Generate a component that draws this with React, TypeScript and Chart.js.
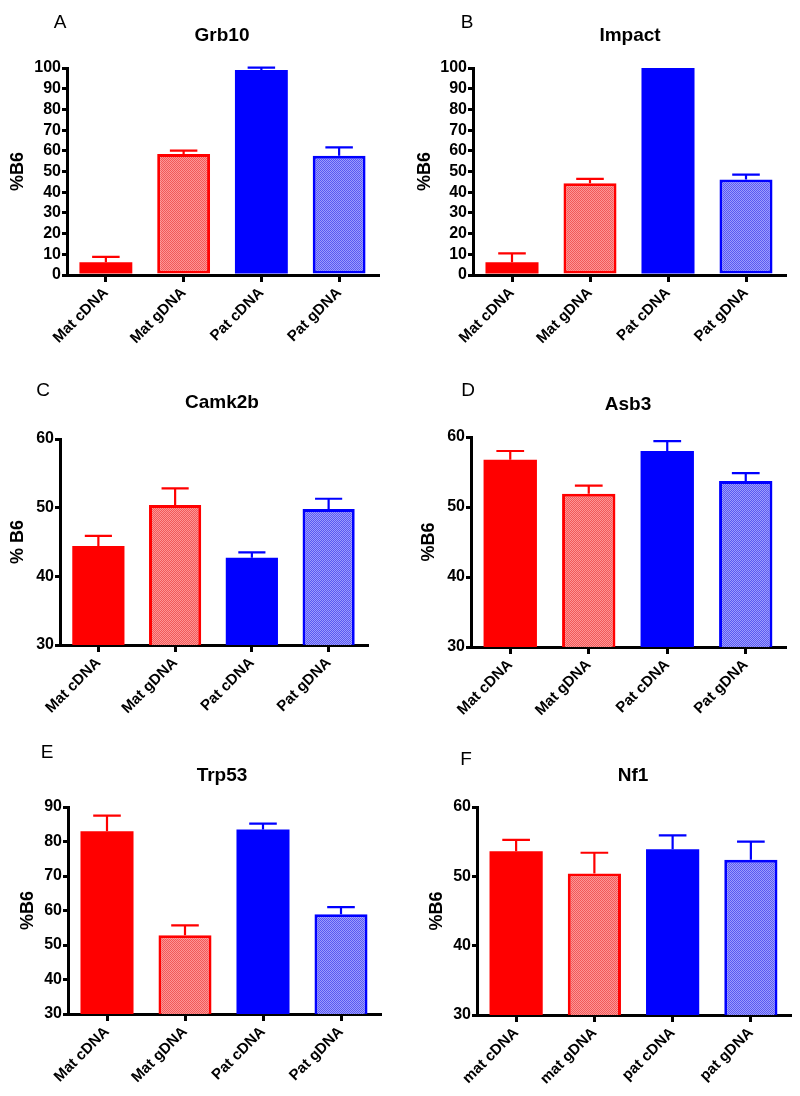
import React, { useEffect, useRef } from "react";
import { Chart, registerables } from "chart.js";

Chart.register(...registerables);

// ---------- data ----------
const upperCategories = ["Mat cDNA", "Mat gDNA", "Pat cDNA", "Pat gDNA"];
const lowerCategories = ["mat cDNA", "mat gDNA", "pat cDNA", "pat gDNA"];

const grb10Means = [6.1, 58.4, 99.0, 57.6];
const grb10Errors = [2.7, 1.7, 1.2, 4.1];

const impactMeans = [6.2, 44.3, 100, 46.1];
const impactErrors = [4.2, 2.1, 0, 2.4];

const camk2bMeans = [44.4, 50.4, 42.7, 49.8];
const camk2bErrors = [1.5, 2.4, 0.8, 1.5];

const asb3Means = [56.75, 51.9, 58.0, 53.7];
const asb3Errors = [1.25, 1.15, 1.4, 1.15];

const trp53Means = [83.0, 52.8, 83.5, 58.9];
const trp53Errors = [4.5, 2.9, 1.7, 2.1];

const nf1Means = [53.6, 50.4, 53.9, 52.4];
const nf1Errors = [1.65, 3.0, 2.0, 2.6];

const fullRange = [0, 100];
const camk2bRange = [30, 60];
const asb3Range = [30, 60];
const trp53Range = [30, 90];
const nf1Range = [30, 60];
const tickStep = 10;

// ---------- styling ----------
const FONT = "Arial, 'Liberation Sans', Helvetica, sans-serif";
const RED = "#ff0000";
const BLUE = "#0000ff";

function makePattern(c1: string, c2: string): CanvasPattern | string {
  const pc = document.createElement("canvas");
  pc.width = 2;
  pc.height = 2;
  const ctx = pc.getContext("2d");
  if (!ctx) return c1;
  ctx.fillStyle = c1;
  ctx.fillRect(0, 0, 2, 2);
  ctx.fillStyle = c2;
  ctx.fillRect(0, 0, 1, 1);
  ctx.fillRect(1, 1, 1, 1);
  const pat = ctx.createPattern(pc, "repeat");
  return pat || c1;
}

type PanelSpec = {
  letter: string;
  title: string;
  labels: string[];
  means: number[];
  errors: number[];
  range: number[];
  yTitle: string;
};

type PanelBox = {
  left: number;
  top: number;
  width: number;
  height: number;
  axisX: number;
  areaTop: number;
  areaBottom: number;
  areaRight: number;
  letterX: number;
  letterY: number;
  titleX: number;
  titleY: number;
  yTitleX: number;
};

const panels: PanelSpec[] = [
  { letter: "A", title: "Grb10", labels: upperCategories, means: grb10Means, errors: grb10Errors, range: fullRange, yTitle: "%B6" },
  { letter: "B", title: "Impact", labels: upperCategories, means: impactMeans, errors: impactErrors, range: fullRange, yTitle: "%B6" },
  { letter: "C", title: "Camk2b", labels: upperCategories, means: camk2bMeans, errors: camk2bErrors, range: camk2bRange, yTitle: "% B6" },
  { letter: "D", title: "Asb3", labels: upperCategories, means: asb3Means, errors: asb3Errors, range: asb3Range, yTitle: "%B6" },
  { letter: "E", title: "Trp53", labels: upperCategories, means: trp53Means, errors: trp53Errors, range: trp53Range, yTitle: "%B6" },
  { letter: "F", title: "Nf1", labels: lowerCategories, means: nf1Means, errors: nf1Errors, range: nf1Range, yTitle: "%B6" },
];

const boxes: PanelBox[] = [
  { left: 0, top: 0, width: 400, height: 365, axisX: 67, areaTop: 68, areaBottom: 275, areaRight: 378, letterX: 60, letterY: 23, titleX: 222, titleY: 36, yTitleX: 18 },
  { left: 400, top: 0, width: 400, height: 365, axisX: 73, areaTop: 68, areaBottom: 275, areaRight: 385, letterX: 67, letterY: 23, titleX: 230, titleY: 36, yTitleX: 25 },
  { left: 0, top: 365, width: 400, height: 365, axisX: 60, areaTop: 74, areaBottom: 280, areaRight: 367, letterX: 43, letterY: 26, titleX: 222, titleY: 38, yTitleX: 18 },
  { left: 400, top: 365, width: 400, height: 365, axisX: 71, areaTop: 72, areaBottom: 282, areaRight: 385, letterX: 68, letterY: 26, titleX: 228, titleY: 40, yTitleX: 29 },
  { left: 0, top: 730, width: 400, height: 366, axisX: 68, areaTop: 77, areaBottom: 284, areaRight: 380, letterX: 47, letterY: 23, titleX: 222, titleY: 46, yTitleX: 28 },
  { left: 400, top: 730, width: 400, height: 366, axisX: 77, areaTop: 77, areaBottom: 285, areaRight: 390, letterX: 66, letterY: 30, titleX: 233, titleY: 46, yTitleX: 37 },
];

function Panel({ spec, box }: { spec: PanelSpec; box: PanelBox }) {
  const ref = useRef<HTMLCanvasElement | null>(null);

  useEffect(() => {
    const canvas = ref.current;
    if (!canvas) return;
    const redPattern = makePattern("#ff9595", "#f05a5a");
    const bluePattern = makePattern("#9c9cff", "#5a5af0");
    const fills = [RED, redPattern, BLUE, bluePattern];
    const borders = [RED, RED, BLUE, BLUE];
    const borderWidths = [0, 3, 0, 3];

    const decorPlugin = {
      id: "decor" + spec.letter,
      afterDatasetsDraw(chart: any) {
        const ctx = chart.ctx;
        const meta = chart.getDatasetMeta(0);
        const y = chart.scales.y;
        ctx.save();
        ctx.lineWidth = 2.2;
        meta.data.forEach((bar: any, i: number) => {
          const err = spec.errors[i];
          if (!err) return;
          const top = y.getPixelForValue(spec.means[i]);
          const end = y.getPixelForValue(spec.means[i] + err);
          const half = bar.width * 0.26;
          ctx.strokeStyle = borders[i];
          ctx.beginPath();
          ctx.moveTo(bar.x, top);
          ctx.lineTo(bar.x, end);
          ctx.moveTo(bar.x - half, end);
          ctx.lineTo(bar.x + half, end);
          ctx.stroke();
        });
        ctx.restore();
      },
      afterDraw(chart: any) {
        const ctx = chart.ctx;
        ctx.save();
        ctx.fillStyle = "#000";
        ctx.textAlign = "center";
        ctx.textBaseline = "middle";
        ctx.font = `normal 19px ${FONT}`;
        ctx.fillText(spec.letter, box.letterX, box.letterY);
        ctx.font = `bold 19px ${FONT}`;
        ctx.fillText(spec.title, box.titleX, box.titleY);
        ctx.restore();
      },
    };

    const chart = new Chart(canvas, {
      type: "bar",
      data: {
        labels: spec.labels,
        datasets: [
          {
            data: spec.means,
            backgroundColor: fills as any,
            borderColor: borders,
            borderWidth: borderWidths,
            borderSkipped: false,
            barPercentage: 0.68,
            categoryPercentage: 1,
          },
        ],
      },
      options: {
        responsive: false,
        animation: false,
        devicePixelRatio: 1,
        layout: {
          padding: { left: 0, top: box.areaTop, right: box.width - box.areaRight, bottom: 0 },
        },
        plugins: {
          legend: { display: false },
          tooltip: { enabled: false },
          title: { display: false },
        },
        scales: {
          x: {
            grid: {
              offset: false,
              drawOnChartArea: false,
              drawTicks: true,
              tickLength: 7,
              lineWidth: 3,
              tickWidth: 3,
              color: "#000",
            },
            border: { display: true, color: "#000", width: 3 },
            ticks: {
              color: "#000",
              font: { family: FONT, size: 15, weight: "bold" },
              minRotation: 45,
              maxRotation: 45,
              padding: 2,
              autoSkip: false,
            },
            afterFit: (s: any) => {
              s.height = box.height - box.areaBottom;
            },
          },
          y: {
            min: spec.range[0],
            max: spec.range[1],
            ticks: {
              stepSize: tickStep,
              autoSkip: false,
              color: "#000",
              font: { family: FONT, size: 16, weight: "bold" },
              padding: 1,
            },
            grid: {
              drawOnChartArea: false,
              drawTicks: true,
              tickLength: 5,
              lineWidth: 3,
              tickWidth: 3,
              color: "#000",
            },
            border: { display: true, color: "#000", width: 3 },
            title: {
              display: true,
              text: spec.yTitle,
              color: "#000",
              font: { family: FONT, size: 18, weight: "bold" },
              padding: { top: box.yTitleX - 10.8, bottom: 0 },
            },
            afterFit: (s: any) => {
              s.width = box.axisX;
            },
          },
        },
      } as any,
      plugins: [decorPlugin],
    });
    return () => chart.destroy();
  }, [spec, box]);

  return (
    <canvas
      ref={ref}
      width={box.width}
      height={box.height}
      style={{ position: "absolute", left: box.left, top: box.top, width: box.width, height: box.height }}
    />
  );
}

export default function App() {
  return (
    <div style={{ position: "absolute", left: 0, top: 0, width: 800, height: 1096, background: "#fff" }}>
      {panels.map((p, i) => (
        <Panel key={p.letter} spec={p} box={boxes[i]} />
      ))}
    </div>
  );
}
